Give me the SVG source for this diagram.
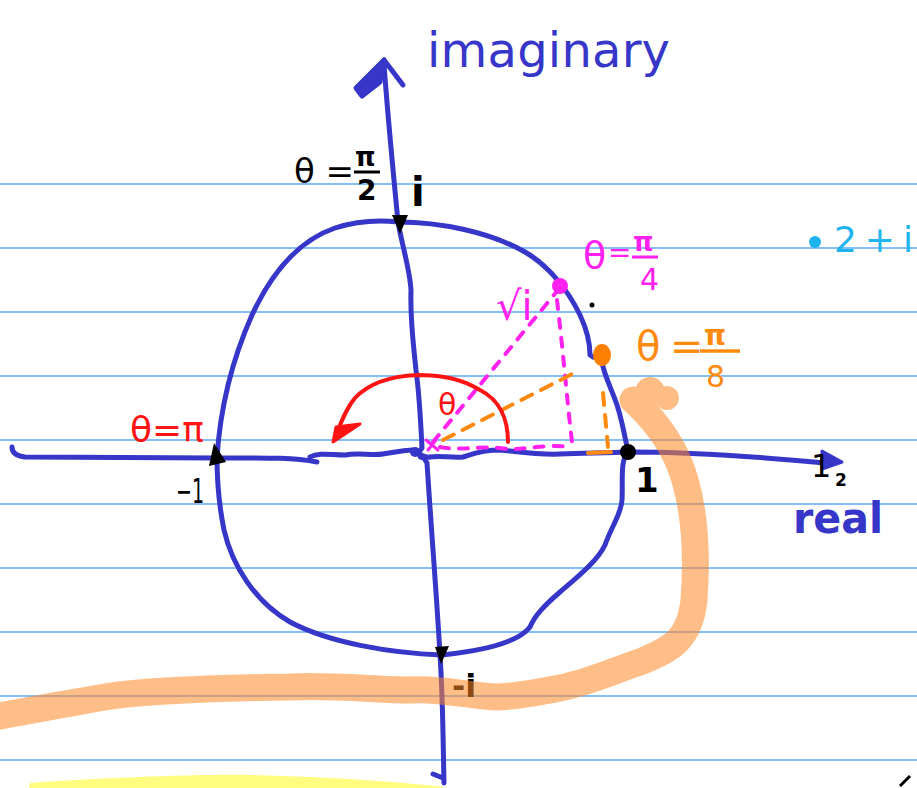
<svg xmlns="http://www.w3.org/2000/svg" width="917" height="788" viewBox="0 0 917 788">
<style>
.rule{stroke:#5AAAF8;stroke-width:1.6}
.blue{fill:none;stroke:#3636C8;stroke-width:5;stroke-linecap:round;stroke-linejoin:round}
.mag{fill:none;stroke:#FF22EE;stroke-width:4;stroke-linecap:round;stroke-dasharray:9 10}
.org{fill:none;stroke:#FF8A10;stroke-width:4;stroke-linecap:round;stroke-dasharray:12 10}
.red{fill:none;stroke:#FF1414;stroke-width:4;stroke-linecap:round;stroke-linejoin:round}
.t{font-family:"DejaVu Sans","Liberation Sans",sans-serif}
.blk{fill:#000}
</style>
<rect width="917" height="788" fill="#fff"/>
<g id="rules">
<line class="rule" x1="0" y1="184" x2="917" y2="184"/>
<line class="rule" x1="0" y1="248" x2="917" y2="248"/>
<line class="rule" x1="0" y1="312" x2="917" y2="312"/>
<line class="rule" x1="0" y1="376" x2="917" y2="376"/>
<line class="rule" x1="0" y1="440" x2="917" y2="440"/>
<line class="rule" x1="0" y1="504" x2="917" y2="504"/>
<line class="rule" x1="0" y1="568" x2="917" y2="568"/>
<line class="rule" x1="0" y1="632" x2="917" y2="632"/>
<line class="rule" x1="0" y1="696" x2="917" y2="696"/>
<line class="rule" x1="0" y1="760" x2="917" y2="760"/>
</g>
<g id="axes">
<path class="blue" d="M384,64 C388,120 394,180 398,222 C402,245 410,270 411,290 C410,320 413,340 416,370 C420,400 421,430 422,448 C418,452 418,458 424,458 L427,463 C432,540 437,600 440,655 C443,700 443,740 444,783 M433,774 L443,778"/>
<polygon points="384,60 356,88 362,96 380,82" fill="#3636C8" stroke="#3636C8" stroke-width="5" stroke-linejoin="round"/>
<path class="blue" d="M384,60 L403,85" stroke-width="5"/>
<path class="blue" d="M12,447 C12,453 16,456 25,457 L217,458 C260,458 290,457 317,462 M310,457 C320,452 330,455 345,455 C360,452 370,456 383,454 C395,452 405,450 413,450 C420,455 425,458 430,457 C440,455 450,458 463,457 C470,455 480,450 500,450 C520,452 540,455 560,454 C590,453 610,453 628,452 C680,452 740,455 825,463"/>
<circle cx="415" cy="452" r="5" fill="#3636C8"/>
<polygon points="822,451 842,462 822,469" fill="#3636C8" stroke="#3636C8" stroke-width="3" stroke-linejoin="round"/>
</g>
<g id="circle">
<path class="blue" d="M398,222 C440,222 490,232 525,252 C548,265 568,290 580,315 C588,332 590,345 590,355 l3,2"/>
<path class="blue" d="M602,362 C604,375 612,390 617,405 C622,420 625,437 628,452"/>
<path class="blue" d="M628,452 C620,460 623,480 622,500 C621,515 612,525 605,545 C598,560 580,575 560,592 C545,605 535,615 530,627 C520,640 490,650 442,655"/>
<path class="blue" d="M442,655 C390,653 330,643 290,622 C255,602 232,565 224,530 C218,500 217,480 217,458"/>
<path class="blue" d="M217,458 C220,410 232,360 252,315 C272,272 300,240 335,228 C360,220 380,220 398,222"/>
</g>
<g id="construction">
<path class="mag" d="M433,442 L558,290"/>
<path class="mag" d="M557,300 C563,350 567,400 572,442"/>
<path class="mag" d="M440,447 C460,451 480,446 500,448 C520,452 540,443 572,447"/>
<path d="M426,440 L438,450 M436,440 L428,450" stroke="#FF22EE" stroke-width="3" stroke-linecap="round"/>
<circle cx="560" cy="286" r="8" fill="#FF22EE"/>
<path class="org" d="M443,440 L576,372"/>
<path class="org" d="M603,393 L608,447" stroke-dasharray="8 10"/>
<path d="M588,453 L611,452" stroke="#FF8A10" stroke-width="4" stroke-linecap="round" fill="none"/>
<path d="M602,358 L602,366" stroke="#FF8A10" stroke-width="4" fill="none"/>
<ellipse cx="602" cy="355" rx="9" ry="11" fill="#FF8000"/>
<path class="red" d="M508,442 C508,420 500,400 480,390 C460,378 440,375 417,375 C395,376 370,382 355,398 C345,410 340,425 335,438"/>
<polygon points="333,442 336,427 360,424" fill="#FF1414" stroke="#FF1414" stroke-width="3" stroke-linejoin="round"/>
</g>
<g id="markers">
<polygon points="392,215 408,215 400,234" class="blk"/>
<polygon points="214,443 226,462 209,466" class="blk"/>
<polygon points="435,647 449,646 441,664" class="blk"/>
<circle cx="628" cy="452" r="8" class="blk"/>
<circle cx="592" cy="305" r="2.5" class="blk"/>
<path d="M900,786 L910,776" stroke="#000" stroke-width="3"/>
</g>
<g id="labels">
<text class="t" x="427" y="67" font-size="48" fill="#3636C8" textLength="243" lengthAdjust="spacing">imaginary</text>
<text class="t" x="793" y="533" font-size="42" font-weight="bold" fill="#3636C8" textLength="90" lengthAdjust="spacingAndGlyphs">real</text>
<text class="t" x="294" y="183" font-size="34" fill="#000">θ =<tspan x="355" y="166" font-size="26" font-weight="bold">π</tspan><tspan x="357" y="200" font-size="28" font-weight="bold">2</tspan></text>
<line x1="354" y1="172" x2="380" y2="172" stroke="#000" stroke-width="3"/>
<text class="t" x="411" y="206" font-size="40" font-weight="bold" fill="#000">i</text>
<text class="t" x="130" y="442" font-size="36" fill="#FF1414">θ=π</text>
<text class="t" x="438" y="415" font-size="30" fill="#FF1414">θ</text>
<text class="t" x="583" y="268" font-size="38" fill="#FF22EE">θ<tspan x="608" y="262" font-size="28">=</tspan><tspan x="633" y="251" font-size="26" font-weight="bold">π</tspan><tspan x="640" y="290" font-size="30">4</tspan></text>
<line x1="632" y1="257" x2="658" y2="257" stroke="#FF22EE" stroke-width="3"/>
<text class="t" x="496" y="320" font-size="40" fill="#FF22EE">√i</text>
<text class="t" x="636" y="360" font-size="40" fill="#FF8A10">θ<tspan x="670">=</tspan><tspan x="704" y="345" font-size="28" font-weight="bold">π</tspan><tspan x="706" y="387" font-size="30" font-weight="normal">8</tspan></text>
<line x1="700" y1="351" x2="740" y2="351" stroke="#FF8A10" stroke-width="3.5"/>
<text class="t" x="176" y="503" font-size="34" fill="#000" textLength="28" lengthAdjust="spacingAndGlyphs">−1</text>
<text class="t" x="635" y="492" font-size="34" font-weight="bold" fill="#000">1</text>
<text class="t" x="452" y="697" font-size="32" font-weight="bold" fill="#000">-i</text>
<text class="t" x="811" y="477" font-size="32" fill="#000">1<tspan x="835" y="486" font-size="17" font-weight="bold">2</tspan></text>
<circle cx="815" cy="242" r="6" fill="#1EB4F0"/>
<text class="t" x="834" y="252" font-size="36" fill="#1EB4F0" textLength="79" lengthAdjust="spacing">2+i</text>
</g>
<g id="highlight" opacity="0.55">
<path d="M633,400 C655,420 675,445 685,480 C695,515 697,560 694,600 C690,640 670,650 640,662 C610,672 590,682 560,688 C530,694 510,697 495,697 C470,696 440,688 410,690 C380,690 330,685 290,687 C220,688 150,690 105,697 C60,705 30,710 -5,717" fill="none" stroke="#FF8824" stroke-width="27" stroke-linecap="round" stroke-linejoin="round"/>
<circle cx="650" cy="392" r="15" fill="#FF8824"/>
<circle cx="667" cy="398" r="12" fill="#FF8824"/>
</g>
<path id="yellow" d="M29,788 L30,783 C100,778 200,774 250,775 C330,777 400,782 443,787 L443,788 Z" fill="#FFFC7F"/>
</svg>
